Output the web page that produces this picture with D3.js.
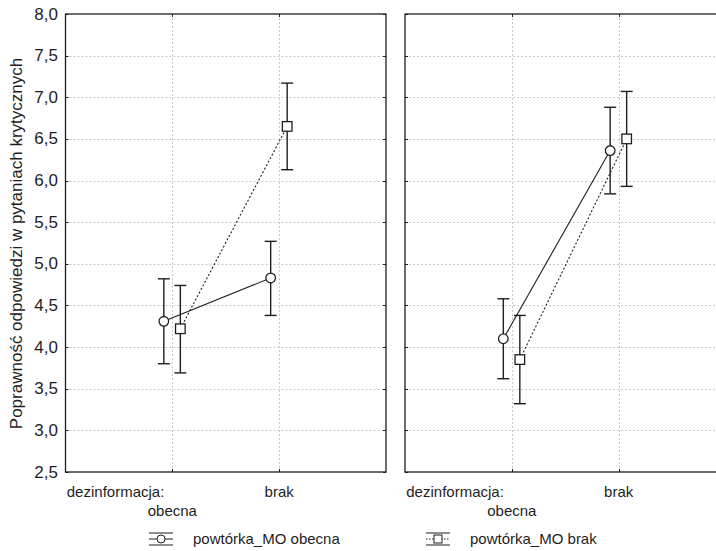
<!DOCTYPE html>
<html>
<head>
<meta charset="utf-8">
<script src="https://cdn.jsdelivr.net/npm/d3@7/dist/d3.min.js"></script>
<style>
  body { margin: 0; background: #fff; }
  svg { font-family: "Liberation Sans", Arial, sans-serif; }
</style>
</head>
<body>
<svg width="716" height="551"></svg>
<script>
// data
var categories = ["obecna", "brak"];
var seriesNames = ["powtórka_MO obecna", "powtórka_MO brak"];
var yTicks = [2.5, 3.0, 3.5, 4.0, 4.5, 5.0, 5.5, 6.0, 6.5, 7.0, 7.5, 8.0];

// left panel
var leftCircleMean = [4.31, 4.83];
var leftCircleLo = [3.80, 4.38];
var leftCircleHi = [4.82, 5.27];
var leftSquareMean = [4.22, 6.65];
var leftSquareLo = [3.69, 6.13];
var leftSquareHi = [4.74, 7.17];

// right panel
var rightCircleMean = [4.10, 6.36];
var rightCircleLo = [3.62, 5.84];
var rightCircleHi = [4.58, 6.88];
var rightSquareMean = [3.85, 6.50];
var rightSquareLo = [3.32, 5.93];
var rightSquareHi = [4.38, 7.07];

var svg = d3.select("svg");
var top_ = 14, bottom = 472;
var y = d3.scaleLinear().domain([2.5, 8]).range([bottom, top_]);
var fmt = function (v) { return v.toFixed(1).replace(".", ","); };
var ink = "#1e1e1e";

var panels = [
  { x0: 65.5, x1: 386,
    series: [
      { mean: leftCircleMean, lo: leftCircleLo, hi: leftCircleHi, shape: "circle", dash: null, off: -8.5 },
      { mean: leftSquareMean, lo: leftSquareLo, hi: leftSquareHi, shape: "square", dash: "2,2", off: 8 }
    ] },
  { x0: 405, x1: 725.5,
    series: [
      { mean: rightCircleMean, lo: rightCircleLo, hi: rightCircleHi, shape: "circle", dash: null, off: -8.5 },
      { mean: rightSquareMean, lo: rightSquareLo, hi: rightSquareHi, shape: "square", dash: "2,2", off: 8 }
    ] }
];

panels.forEach(function (p) {
  var x = d3.scalePoint().domain(categories).range([p.x0, p.x1]).padding(1);
  var g = svg.append("g");

  // grid
  g.selectAll(".hgrid").data(yTicks.slice(1, -1)).enter().append("line")
    .attr("x1", p.x0).attr("x2", p.x1)
    .attr("y1", d => Math.round(y(d)) + 0.5).attr("y2", d => Math.round(y(d)) + 0.5)
    .attr("stroke", "#c8c8c8").attr("stroke-dasharray", "2,2");
  g.selectAll(".vgrid").data(categories).enter().append("line")
    .attr("x1", d => Math.round(x(d)) + 0.5).attr("x2", d => Math.round(x(d)) + 0.5)
    .attr("y1", top_).attr("y2", bottom)
    .attr("stroke", "#c8c8c8").attr("stroke-dasharray", "2,2");

  // inner ticks
  yTicks.forEach(function (t) {
    var yy = Math.round(y(t)) + 0.5;
    g.append("line").attr("x1", p.x0).attr("x2", p.x0 + 3).attr("y1", yy).attr("y2", yy).attr("stroke", ink);
    g.append("line").attr("x1", p.x1 - 3).attr("x2", p.x1).attr("y1", yy).attr("y2", yy).attr("stroke", ink);
  });
  categories.forEach(function (c) {
    var xx = Math.round(x(c)) + 0.5;
    g.append("line").attr("x1", xx).attr("x2", xx).attr("y1", top_).attr("y2", top_ + 3).attr("stroke", ink);
    g.append("line").attr("x1", xx).attr("x2", xx).attr("y1", bottom - 3).attr("y2", bottom).attr("stroke", ink);
  });

  // frame
  g.append("rect").attr("x", p.x0).attr("y", top_).attr("width", p.x1 - p.x0).attr("height", bottom - top_)
    .attr("fill", "none").attr("stroke", ink).attr("stroke-width", 1.3);

  // series
  p.series.forEach(function (s) {
    var pts = categories.map(function (c, i) {
      return { x: x(c) + s.off, m: s.mean[i], lo: s.lo[i], hi: s.hi[i] };
    });
    g.append("path")
      .attr("d", d3.line().x(d => d.x).y(d => y(d.m))(pts))
      .attr("fill", "none").attr("stroke", ink).attr("stroke-width", 1.1)
      .attr("stroke-dasharray", s.dash);
    pts.forEach(function (d) {
      g.append("line").attr("x1", d.x).attr("x2", d.x).attr("y1", y(d.lo)).attr("y2", y(d.hi))
        .attr("stroke", ink).attr("stroke-width", 1.4);
      [d.lo, d.hi].forEach(function (v) {
        g.append("line").attr("x1", d.x - 6).attr("x2", d.x + 6).attr("y1", y(v)).attr("y2", y(v))
          .attr("stroke", ink).attr("stroke-width", 1.4);
      });
      if (s.shape === "circle") {
        g.append("circle").attr("cx", d.x).attr("cy", y(d.m)).attr("r", 4.8)
          .attr("fill", "#fff").attr("stroke", ink).attr("stroke-width", 1.3);
      } else {
        g.append("rect").attr("x", d.x - 4.8).attr("y", y(d.m) - 4.8).attr("width", 9.6).attr("height", 9.6)
          .attr("fill", "#fff").attr("stroke", ink).attr("stroke-width", 1.3);
      }
    });
  });

  // category labels
  g.append("text").attr("x", x("obecna") - 8).attr("y", 497).attr("text-anchor", "end")
    .attr("font-size", 15).attr("fill", ink).text("dezinformacja:");
  g.append("text").attr("x", x("obecna")).attr("y", 516).attr("text-anchor", "middle")
    .attr("font-size", 15).attr("fill", ink).text("obecna");
  g.append("text").attr("x", x("brak")).attr("y", 497).attr("text-anchor", "middle")
    .attr("font-size", 15).attr("fill", ink).text("brak");
});

// y axis labels
svg.selectAll(".ylab").data(yTicks).enter().append("text")
  .attr("x", 58).attr("y", d => y(d) + 5.5).attr("text-anchor", "end")
  .attr("font-size", 17).attr("fill", ink).text(fmt);

svg.append("text")
  .attr("transform", "translate(22," + 243.5 + ") rotate(-90)")
  .attr("text-anchor", "middle").attr("font-size", 17).attr("fill", ink)
  .text("Poprawność odpowiedzi w pytaniach krytycznych");

// legend
var legendX = [161, 438];
seriesNames.forEach(function (name, i) {
  var cx = legendX[i], cy = 538;
  var lg = svg.append("g");
  lg.append("line").attr("x1", cx - 12).attr("x2", cx + 12).attr("y1", cy - 5).attr("y2", cy - 5).attr("stroke", ink);
  lg.append("line").attr("x1", cx - 12).attr("x2", cx + 12).attr("y1", cy + 7).attr("y2", cy + 7).attr("stroke", ink);
  lg.append("line").attr("x1", cx - 12).attr("x2", cx + 12).attr("y1", cy + 1).attr("y2", cy + 1)
    .attr("stroke", ink).attr("stroke-dasharray", i === 1 ? "1.5,1.5" : null);
  if (i === 0) {
    lg.append("circle").attr("cx", cx).attr("cy", cy + 1).attr("r", 4)
      .attr("fill", "#fff").attr("stroke", ink);
  } else {
    lg.append("rect").attr("x", cx - 4).attr("y", cy - 3).attr("width", 8).attr("height", 8)
      .attr("fill", "#fff").attr("stroke", ink);
  }
  lg.append("text").attr("x", cx + 32).attr("y", cy + 5.5).attr("font-size", 15).attr("fill", ink).text(name);
});
</script>
</body>
</html>
